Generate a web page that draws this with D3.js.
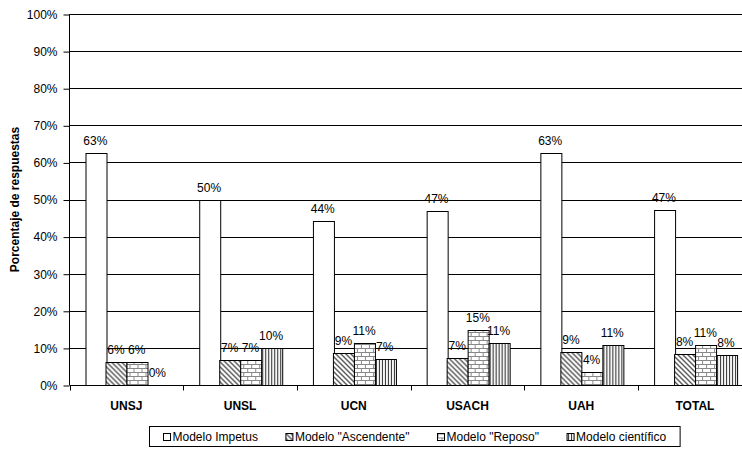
<!DOCTYPE html>
<html>
<head>
<meta charset="utf-8">
<script src="https://cdn.jsdelivr.net/npm/d3@7"></script>
<style>
  html, body { margin: 0; padding: 0; background: #fff; }
  svg { display: block; font-family: "Liberation Sans", Arial, sans-serif; }
</style>
</head>
<body>
<svg id="chart" width="742" height="449"></svg>
<script>
// Universities / groups along the x axis
const categories = ["UNSJ", "UNSL", "UCN", "USACH", "UAH", "TOTAL"];

// Response model names (legend)
const seriesNames = ["Modelo Impetus", "Modelo \"Ascendente\"", "Modelo \"Reposo\"", "Modelo científico"];

// Percentage of responses per model, one value per category
const impetus    = [62.5, 50.0, 44.2, 46.8, 62.6, 47.2];
const ascendente = [6.25, 6.7, 8.7, 7.4, 9.0, 8.3];
const reposo     = [6.25, 6.7, 11.4, 14.9, 3.6, 10.7];
const cientifico = [0.0, 10.0, 7.0, 11.2, 10.8, 8.0];

// Y axis ticks
const yTicks = [0, 10, 20, 30, 40, 50, 60, 70, 80, 90, 100];

const seriesValues = [impetus, ascendente, reposo, cientifico];
const fills = ["#ffffff", "url(#pDiag)", "url(#pBrick)", "url(#pVert)"];
const FONT = "'Liberation Sans', Arial, sans-serif";

const svg = d3.select("#chart");
const plot = { left: 69.5, right: 751.8, top: 14, bottom: 385 };

// Fill patterns
const defs = svg.append("defs");
const diag = defs.append("pattern").attr("id", "pDiag")
  .attr("patternUnits", "userSpaceOnUse").attr("width", 5).attr("height", 5);
diag.append("rect").attr("width", 5).attr("height", 5).attr("fill", "#fff");
diag.append("path").attr("d", "M0,0L5,5M-1,4L1,6M4,-1L6,1")
  .attr("stroke", "#555").attr("stroke-width", 1.4);

const brick = defs.append("pattern").attr("id", "pBrick")
  .attr("patternUnits", "userSpaceOnUse").attr("width", 8).attr("height", 8);
brick.append("rect").attr("width", 8).attr("height", 8).attr("fill", "#fff");
brick.append("path").attr("d", "M0,0.5H8M0,4.5H8M0.5,0.5V4.5M4.5,4.5V8.5")
  .attr("stroke", "#888").attr("stroke-width", 1).attr("fill", "none");

const vert = defs.append("pattern").attr("id", "pVert")
  .attr("patternUnits", "userSpaceOnUse").attr("width", 3).attr("height", 3);
vert.append("rect").attr("width", 3).attr("height", 3).attr("fill", "#fff");
vert.append("line").attr("x1", 1.5).attr("x2", 1.5).attr("y1", 0).attr("y2", 3)
  .attr("stroke", "#333").attr("stroke-width", 1.1);

// Scales
const x = d3.scaleBand().domain(categories).range([plot.left, plot.right]).padding(0);
const xi = d3.scaleBand().domain(d3.range(seriesNames.length))
  .range([0, x.bandwidth()]).paddingInner(0).paddingOuter(0.75);
const y = d3.scaleLinear().domain([0, 100]).range([plot.bottom, plot.top]);

// Horizontal gridlines
svg.append("g").selectAll("line").data(yTicks.filter(t => t > 0)).join("line")
  .attr("x1", plot.left).attr("x2", 742)
  .attr("y1", d => Math.round(y(d)) + 0.5).attr("y2", d => Math.round(y(d)) + 0.5)
  .attr("stroke", "#000").attr("stroke-width", 1);

// Y axis
const yAxis = d3.axisLeft(y).tickValues(yTicks).tickFormat(d => d + "%").tickSize(6).tickPadding(6);
const gy = svg.append("g").attr("transform", `translate(${Math.round(plot.left) - 0.5},0.5)`).call(yAxis);
gy.select(".domain").attr("d", `M0,${plot.top - 0.5}V${plot.bottom - 0.5}`).attr("stroke", "#000");
gy.selectAll(".tick line").attr("stroke", "#000");
gy.selectAll(".tick text").attr("font-size", 12).attr("fill", "#000").attr("font-family", FONT);

// Bars
const groups = svg.append("g").selectAll("g").data(categories).join("g")
  .attr("transform", d => `translate(${x(d)},0)`);
groups.selectAll("rect")
  .data((c, i) => seriesValues.map((vals, s) => ({ s, v: vals[i] })))
  .join("rect")
  .attr("x", d => Math.round(xi(d.s)) + 0.5)
  .attr("width", Math.round(xi.bandwidth()))
  .attr("y", d => Math.round(y(d.v)) + 0.5)
  .attr("height", d => Math.max(0, Math.round(y(0)) - Math.round(y(d.v))))
  .attr("fill", d => fills[d.s])
  .attr("stroke", d => d.v > 0 ? "#000" : "none")
  .attr("stroke-width", 1);

// Data labels
groups.selectAll("text")
  .data((c, i) => seriesValues.map((vals, s) => ({ s, v: vals[i] })))
  .join("text")
  .attr("x", d => xi(d.s) + xi.bandwidth() / 2)
  .attr("y", d => y(d.v) - 8)
  .attr("text-anchor", "middle")
  .attr("font-size", 12)
  .attr("fill", "#000")
  .attr("font-family", FONT)
  .text(d => Math.round(d.v) + "%");

// X axis
const xAxis = d3.axisBottom(x).tickSize(0).tickPadding(16);
const gx = svg.append("g").attr("transform", `translate(0,${Math.round(plot.bottom) + 0.5})`).call(xAxis);
gx.select(".domain").attr("d", `M${plot.left},0H742`).attr("stroke", "#000");
gx.selectAll(".tick text").attr("font-size", 12).attr("font-weight", "bold").attr("fill", "#000")
  .attr("font-family", FONT);
// Category separators
gx.append("g").selectAll("line").data(categories.slice(1).map(c => x(c)).concat([plot.left]))
  .join("line")
  .attr("x1", d => Math.round(d) + 0.5).attr("x2", d => Math.round(d) + 0.5)
  .attr("y1", 0).attr("y2", 5).attr("stroke", "#000");

// Y axis title
svg.append("text")
  .attr("transform", `translate(19,${(plot.top + plot.bottom) / 2}) rotate(-90)`)
  .attr("text-anchor", "middle")
  .attr("font-size", 12).attr("font-weight", "bold").attr("fill", "#000")
  .attr("font-family", FONT)
  .text("Porcentaje de respuestas");

// Legend
const legend = svg.append("g");
const items = legend.selectAll("g").data(seriesNames).join("g");
items.append("rect").attr("width", 7).attr("height", 7)
  .attr("fill", (d, i) => fills[i]).attr("stroke", "#000").attr("stroke-width", 1);
items.append("text").attr("x", 9).attr("y", 7.5).attr("font-size", 12).attr("fill", "#000")
  .attr("font-family", FONT).text(d => d);
const offsets = [];
let cursor = 0;
items.each(function () {
  offsets.push(cursor);
  cursor += 9 + d3.select(this).select("text").node().getComputedTextLength() + 28;
});
const legendW = cursor - 28 + 28;
const legendX = Math.round(414 - legendW / 2);
legend.insert("rect", ":first-child")
  .attr("x", legendX + 0.5).attr("y", 426.5)
  .attr("width", legendW).attr("height", 20)
  .attr("fill", "#fff").attr("stroke", "#000").attr("stroke-width", 1);
items.attr("transform", (d, i) => `translate(${legendX + 14 + offsets[i] + 0.5},433.5)`);
</script>
</body>
</html>
